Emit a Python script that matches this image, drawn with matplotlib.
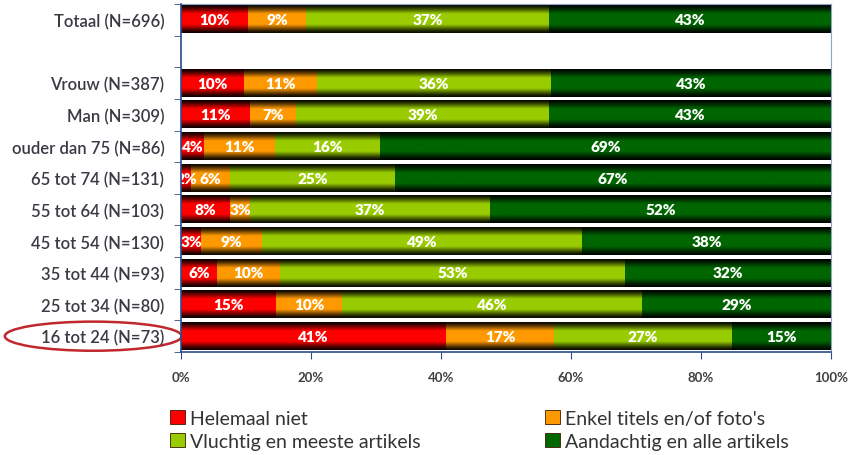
import numpy as np
import matplotlib
matplotlib.use('Agg')
import matplotlib.pyplot as plt
import matplotlib.transforms as mtransforms
from matplotlib.patches import Ellipse, Patch

plt.rcParams['font.family'] = ['Lato', 'DejaVu Sans']

groups = ['Totaal (N=696)', '', 'Vrouw (N=387)', 'Man (N=309)',
          'ouder dan 75 (N=86)', '65 tot 74 (N=131)', '55 tot 64 (N=103)',
          '45 tot 54 (N=130)', '35 tot 44 (N=93)', '25 tot 34 (N=80)',
          '16 tot 24 (N=73)']

# shares in percent, empty row is just a spacer between total and subgroups
helemaal_niet = [10.3, 0, 9.7, 10.6, 3.6, 1.6, 7.6, 3.1, 5.6, 14.6, 40.8]
enkel_titels = [8.9, 0, 11.2, 7.1, 10.9, 5.9, 3.0, 9.4, 9.6, 10.2, 16.6]
vluchtig = [37.4, 0, 36.0, 38.9, 16.1, 25.4, 37.0, 49.2, 53.1, 46.1, 27.4]
aandachtig = [43.4, 0, 43.1, 43.4, 69.4, 67.1, 52.4, 38.3, 31.7, 29.1, 15.2]

series = [
    ('Helemaal niet', helemaal_niet, '#FF0000'),
    ("Enkel titels en/of foto's", enkel_titels, '#FF9900'),
    ('Vluchtig en meeste artikels', vluchtig, '#99CC00'),
    ('Aandachtig en alle artikels', aandachtig, '#006600'),
]

# vertical shading: dark edges, bright middle
t = np.linspace(0, 1, 80)
shade = np.clip(np.sin(np.pi * t) * 1.2, 0, 1) ** 1.5
shade = 0.06 + 0.94 * shade


def shaded(color):
    rgb = np.array(matplotlib.colors.to_rgb(color))
    return rgb[None, None, :] * shade[:, None, None]


fig = plt.figure(figsize=(8.51, 4.56), dpi=100)
ax = fig.add_axes([181 / 851, 1 - 353 / 456, 650 / 851, 348 / 456])

y = np.arange(len(groups))
left = np.zeros(len(groups))
for name, vals, color in series:
    vals = np.array(vals, dtype=float)
    bars = ax.barh(y, vals, left=left, height=0.86, color=color, linewidth=0)
    for bar, v in zip(bars, vals):
        if v <= 0:
            continue
        x0, y0 = bar.get_x(), bar.get_y()
        w, h = bar.get_width(), bar.get_height()
        ax.imshow(shaded(color), extent=(x0, x0 + w, y0 + h, y0),
                  aspect='auto', interpolation='bilinear', zorder=2)
        ax.text(x0 + w / 2, y0 + h / 2, f'{v:.0f}%', ha='center', va='center',
                color='white', fontsize=11, fontweight='heavy', zorder=3)
    left += vals

ax.set_xlim(0, 100)
ax.set_ylim(len(groups) - 0.5, -0.5)

ax.set_xticks([0, 20, 40, 60, 80, 100])
ax.set_xticklabels(['0%', '20%', '40%', '60%', '80%', '100%'],
                   fontweight='bold', fontsize=9.5, color='#404040')
ax.tick_params(axis='x', length=5, color='#2B4C8C', pad=9)

ax.set_yticks(y)
ax.set_yticklabels(groups, fontsize=12, color='#3A3A44', fontweight='semibold')
ax.tick_params(axis='y', which='major', length=0, pad=12)
ax.set_yticks(np.arange(-0.5, len(groups)), minor=True)
ax.tick_params(axis='y', which='minor', length=5, color='#2B4C8C')

for side in ['left', 'bottom']:
    ax.spines[side].set_color('#2B4C8C')
    ax.spines[side].set_linewidth(1.2)
for side in ['top', 'right']:
    ax.spines[side].set_color('#8FA3C7')
    ax.spines[side].set_linewidth(0.8)
ax.spines['left'].set_zorder(4)

# highlight youngest group
trans = mtransforms.blended_transform_factory(ax.transAxes, ax.transData)
ax.add_patch(Ellipse((-0.135, 10), width=0.272, height=0.92, transform=trans,
                     fill=False, edgecolor='#C0282D', linewidth=1.8, clip_on=False))

handles = [Patch(facecolor=c, edgecolor='#3a1a00', linewidth=0.6) for _, _, c in series]
labels = [s[0] for s in series]
leg_kw = dict(frameon=False, handlelength=0.75, handleheight=0.75, handletextpad=0.3,
              labelspacing=0.3, fontsize=14, labelcolor='#333333',
              loc='upper left', borderaxespad=0, borderpad=0)
fig.legend([handles[0], handles[2]], [labels[0], labels[2]],
           bbox_to_anchor=(170 / 851, 1 - 411 / 456), **leg_kw)
fig.legend([handles[1], handles[3]], [labels[1], labels[3]],
           bbox_to_anchor=(545 / 851, 1 - 411 / 456), **leg_kw)

fig.savefig('out.png', dpi=100)
